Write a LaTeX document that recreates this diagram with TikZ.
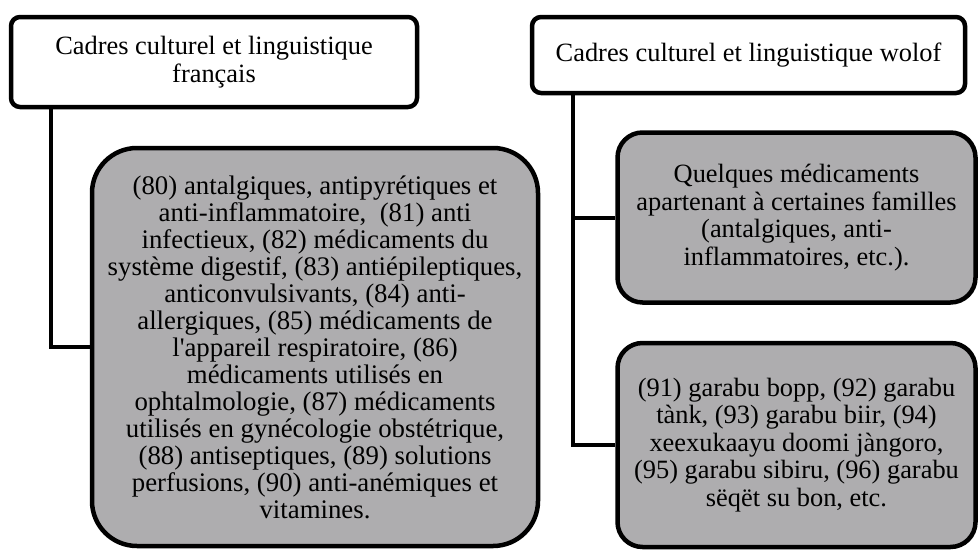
\documentclass[tikz,border=0pt]{standalone}
\usepackage{fontspec}
\setmainfont{Liberation Serif}
\usetikzlibrary{positioning}

\begin{document}
\begin{tikzpicture}[x=1pt,y=-1pt,
    every node/.append style={font=\fontsize{26.4}{27.5}\selectfont},
    entete/.style={draw,line width=4.5pt,rounded corners=9pt,fill=white,align=center,inner sep=0pt},
    liste/.style={draw,line width=4.5pt,fill=boxgray,align=center,inner sep=0pt},
    lien/.style={line width=4pt}]
    % Couleurs
    \definecolor{boxgray}{RGB}{174,173,175}

    % Cadre de la page
    \useasboundingbox (0,0) rectangle (979,549);

    % En-tetes
    \node[entete,minimum width=406pt,minimum height=90pt] (frhead) at (214,62)
        {Cadres culturel et linguistique\\fran\c{c}ais};
    \node[entete,minimum width=433pt,minimum height=76pt] (wohead) at (748.5,55)
        {Cadres culturel et linguistique wolof};

    % Liste francaise
    \node[liste,rounded corners=45pt,minimum width=446pt,minimum height=398pt,
          font=\fontsize{26.8}{27}\selectfont] (frlist) at (315,347)
        {(80) antalgiques, antipyrétiques et\\
         anti-inflammatoire,\ \ (81) anti\\
         infectieux, (82) médicaments du\\
         système digestif, (83) antiépileptiques,\\
         anticonvulsivants, (84) anti-\\
         allergiques, (85) médicaments de\\
         l\textquotesingle appareil respiratoire, (86)\\
         médicaments utilisés en\\
         ophtalmologie, (87) médicaments\\
         utilisés en gynécologie obstétrique,\\
         (88) antiseptiques, (89) solutions\\
         perfusions, (90) anti-anémiques et\\
         vitamines.};

    % Listes wolof
    \node[liste,rounded corners=25pt,minimum width=358pt,minimum height=170pt] (wolistA) at (796.5,217.5)
        {Quelques médicaments\\
         apartenant à certaines familles\\
         (antalgiques, anti-\\
         inflammatoires, etc.).};
    \node[liste,rounded corners=25pt,minimum width=358pt,minimum height=204pt,below=36pt of wolistA] (wolistB)
        {(91) garabu bopp, (92) garabu\\
         tànk, (93) garabu biir, (94)\\
         xeexukaayu doomi jàngoro,\\
         (95) garabu sibiru, (96) garabu\\
         sëqët su bon, etc.};

    % Liens
    \coordinate (frtap) at ([xshift=42pt]frhead.south west);
    \coordinate (wotap) at ([xshift=43pt]wohead.south west);
    \draw[lien] (frtap) |- (frlist.west);
    \draw[lien] (wotap) |- (wolistB.west);
    \draw[lien] (wolistA.west -| wotap) -- (wolistA.west);
\end{tikzpicture}
\end{document}
